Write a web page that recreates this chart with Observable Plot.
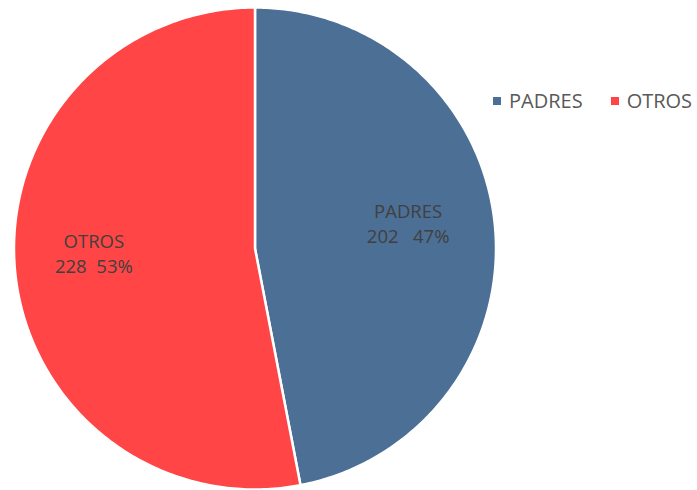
<!DOCTYPE html>
<html>
<head>
<meta charset="utf-8">
<script src="https://cdn.jsdelivr.net/npm/d3@7"></script>
<script src="https://cdn.jsdelivr.net/npm/@observablehq/plot@0.6"></script>
<style>
  html, body { margin: 0; padding: 0; background: #fff; }
  #wrap { position: relative; width: 697px; height: 490px; font-family: "Open Sans", sans-serif; }
  svg text { white-space: pre; }
  #legend { position: absolute; left: 493px; top: 87px; display: flex; align-items: center; font-size: 20px; line-height: 28px; color: #595959; white-space: nowrap; }
  #legend .sw { display: inline-block; width: 8px; height: 8px; margin-right: 8px; }
  #legend .item { display: flex; align-items: center; }
</style>
</head>
<body>
<div id="wrap"></div>
<script>
const categories = ["PADRES", "OTROS"];
const values = [202, 228];
const percentLabels = ["47%", "53%"];
const valueSep = ["   ", "  "];
const colors = ["#4C6F95", "#FF4545"];

const data = categories.map((c, i) => ({name: c, value: values[i]}));
const arcs = d3.pie().sort(null).value(d => d.value)(data);

// polygon outline of each slice (unit circle, clockwise from top)
const pts = [];
arcs.forEach(a => {
  const n = 240;
  pts.push({name: a.data.name, x: 0, y: 0});
  for (let k = 0; k <= n; k++) {
    const t = a.startAngle + (a.endAngle - a.startAngle) * k / n;
    pts.push({name: a.data.name, x: Math.sin(t), y: -Math.cos(t)});
  }
  pts.push({name: a.data.name, x: 0, y: 0});
});

const labR = 0.655;
const labels = arcs.map((a, i) => {
  const m = (a.startAngle + a.endAngle) / 2;
  return {
    name: a.data.name,
    x: labR * Math.sin(m),
    y: -labR * Math.cos(m),
    text: a.data.name + "\n" + a.data.value + valueSep[i] + percentLabels[i]
  };
});

const cx = 254.5, cy = 248, r = 241;
const chart = Plot.plot({
  width: 697,
  height: 490,
  margin: 0,
  x: {domain: [-1, 1], range: [cx - r, cx + r], axis: null},
  y: {domain: [-1, 1], range: [cy - r, cy + r], axis: null},
  color: {domain: categories, range: colors},
  style: {fontFamily: "Open Sans, sans-serif", background: "#fff"},
  marks: [
    Plot.line(pts, {x: "x", y: "y", z: "name", fill: "name", stroke: "white", strokeWidth: 2.5, strokeLinejoin: "round", curve: "linear"}),
    Plot.text(labels, {x: "x", y: "y", text: "text", fill: "#404040", fontSize: 18.5, lineHeight: 1.38, dx: -4, dy: -11})
  ]
});

const wrap = document.getElementById("wrap");
wrap.appendChild(chart);
const legend = document.createElement("div");
legend.id = "legend";
categories.forEach((c, i) => {
  const it = document.createElement("span");
  it.className = "item";
  if (i === 0) it.style.marginRight = "28px";
  const sw = document.createElement("span");
  sw.className = "sw";
  sw.style.background = colors[i];
  it.appendChild(sw);
  it.appendChild(document.createTextNode(c));
  legend.appendChild(it);
});
wrap.appendChild(legend);
</script>
</body>
</html>
